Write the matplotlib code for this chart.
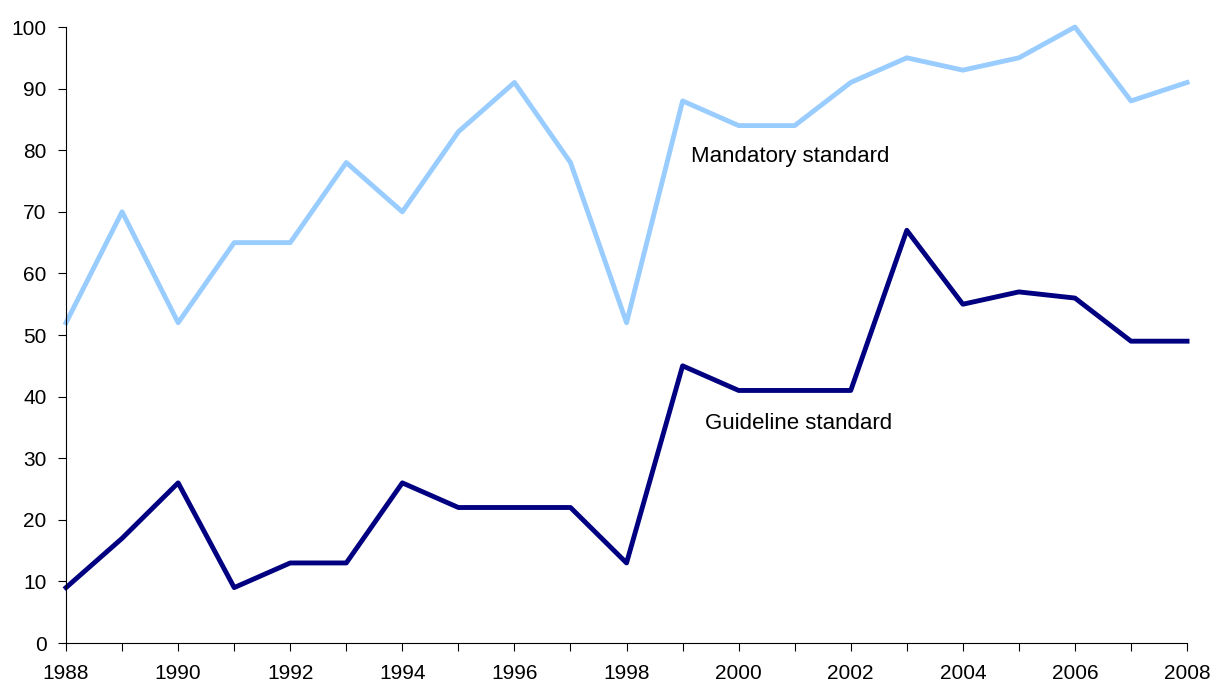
import matplotlib
matplotlib.use("Agg")
import matplotlib.pyplot as plt
from matplotlib.ticker import MultipleLocator

years = list(range(1988, 2009))
mandatory = [52, 70, 52, 65, 65, 78, 70, 83, 91, 78, 52, 88, 84, 84, 91, 95, 93, 95, 100, 88, 91]
guideline = [9, 17, 26, 9, 13, 13, 26, 22, 22, 22, 13, 45, 41, 41, 41, 67, 55, 57, 56, 49, 49]

plt.rcParams['font.family'] = ['Liberation Sans', 'DejaVu Sans']

fig = plt.figure(figsize=(12.14, 6.84), dpi=100)
ax = fig.add_axes([0.0544, 0.0599, 0.9234, 0.9006])

ax.plot(years, mandatory, color='#99CCFF', lw=3.5, clip_on=False)
ax.plot(years, guideline, color='#000080', lw=3.5, clip_on=False)

ax.text(1999.15, 79, 'Mandatory standard', fontsize=16, va='center', ha='left')
ax.text(1999.4, 35.7, 'Guideline standard', fontsize=16, va='center', ha='left')

ax.set_xlim(1988, 2008)
ax.set_ylim(0, 100)
ax.xaxis.set_major_locator(MultipleLocator(2))
ax.xaxis.set_minor_locator(MultipleLocator(1))
ax.yaxis.set_major_locator(MultipleLocator(10))
ax.tick_params(axis='both', direction='out', length=6, width=0.8, colors='#000000')
ax.tick_params(axis='x', which='minor', length=6, width=0.8)
ax.tick_params(axis='x', labelsize=15, pad=9)
ax.tick_params(axis='y', labelsize=15, pad=8)
for s in ['top', 'right']:
    ax.spines[s].set_visible(False)
for s in ['left', 'bottom']:
    ax.spines[s].set_color('#000000')
    ax.spines[s].set_linewidth(0.8)

fig.savefig('out.png', dpi=100)
